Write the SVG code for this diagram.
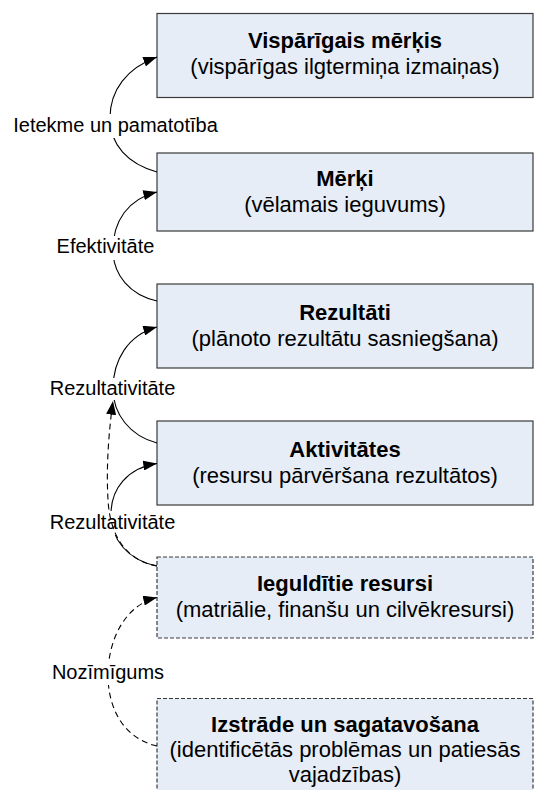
<svg xmlns="http://www.w3.org/2000/svg" width="535" height="790" viewBox="0 0 535 790">
<defs>
<style>
.box{fill:#E7EDF6;stroke:#3a3a3a;stroke-width:1.2}
.dbox{fill:#E7EDF6;stroke:#3a3a3a;stroke-width:1.2;stroke-dasharray:4 2}
.t{font-family:"Liberation Sans",Arial,sans-serif;font-size:22px;fill:#000;text-anchor:middle}
.b{font-weight:bold}
.lbl{font-family:"Liberation Sans",Arial,sans-serif;font-size:20px;fill:#000;text-anchor:middle}
.bg{fill:#fff}
.c{fill:none;stroke:#000;stroke-width:1.1;marker-end:url(#ah)}
.cd{fill:none;stroke:#000;stroke-width:1.1;stroke-dasharray:6 4;marker-end:url(#ah)}
</style>
<marker id="ah" markerUnits="userSpaceOnUse" markerWidth="14" markerHeight="10" refX="13" refY="4.75" orient="auto" viewBox="0 0 13 9.5">
<path d="M0,0 L13,4.75 L0,9.5 z" fill="#000"/>
</marker>
</defs>
<rect width="535" height="790" fill="#fff"/>
<g id="node-visparigais">
<rect class="box" x="157" y="13.5" width="376" height="84"/>
<text class="t b" x="345" y="47.5">Vispārīgais mērķis</text>
<text class="t" x="345" y="73.5">(vispārīgas ilgtermiņa izmaiņas)</text>
</g>
<g id="node-merki">
<rect class="box" x="157" y="153" width="376" height="78"/>
<text class="t b" x="345" y="186">Mērķi</text>
<text class="t" x="345" y="212">(vēlamais ieguvums)</text>
</g>
<g id="node-rezultati">
<rect class="box" x="157" y="284" width="376" height="84"/>
<text class="t b" x="345" y="319.5">Rezultāti</text>
<text class="t" x="345" y="345.5">(plānoto rezultātu sasniegšana)</text>
</g>
<g id="node-aktivitates">
<rect class="box" x="157" y="421" width="376" height="84"/>
<text class="t b" x="345" y="457">Aktivitātes</text>
<text class="t" x="345" y="483">(resursu pārvēršana rezultātos)</text>
</g>
<g id="node-ieguldijumi">
<rect class="dbox" x="157" y="557" width="376" height="81"/>
<text class="t b" x="345" y="591">Ieguldītie resursi</text>
<text class="t" x="345" y="617">(matriālie, finanšu un cilvēkresursi)</text>
</g>
<g id="node-izstrade">
<rect class="dbox" x="157" y="698.5" width="376" height="110"/>
<text class="t b" x="345" y="732">Izstrāde un sagatavošana</text>
<text class="t" x="345" y="757">(identificētās problēmas un patiesās</text>
<text class="t" x="345" y="782">vajadzības)</text>
</g>
<g id="connectors">
<path class="c" d="M157,172 C128,164 110,145 110,118 C110,90 127,68 157,57"/>
<path class="c" d="M157,301 C130,295 113,275 113,250 C113,221 128,199 157,192"/>
<path class="c" d="M157,443 C130,436 113,414 113,389 C113,360 128,335 157,327"/>
<path class="c" d="M157,566 C128,560 111,540 111,514 C111,489 127,468 157,463.5"/>
<path class="cd" d="M157,746 C125,739 108,710 108,675 C108,640 125,605 157,597.5"/>
<g id="edge-labels">
<rect class="bg" x="12" y="114" width="208" height="24"/>
<text class="lbl" x="115.5" y="131.5">Ietekme un pamatotība</text>
<rect class="bg" x="55" y="236" width="102" height="24"/>
<text class="lbl" x="105.5" y="253">Efektivitāte</text>
<rect class="bg" x="48" y="378" width="129" height="22"/>
<text class="lbl" x="112.5" y="395">Rezultativitāte</text>
<rect class="bg" x="48" y="511" width="129" height="24"/>
<text class="lbl" x="112.5" y="529">Rezultativitāte</text>
<rect class="bg" x="50" y="661" width="117" height="24"/>
<text class="lbl" x="108" y="679">Nozīmīgums</text>
</g>
<path class="cd" d="M157,566 C125,560 110,535 108,500 C106,465 109,430 113,401"/>
</g>
</svg>
